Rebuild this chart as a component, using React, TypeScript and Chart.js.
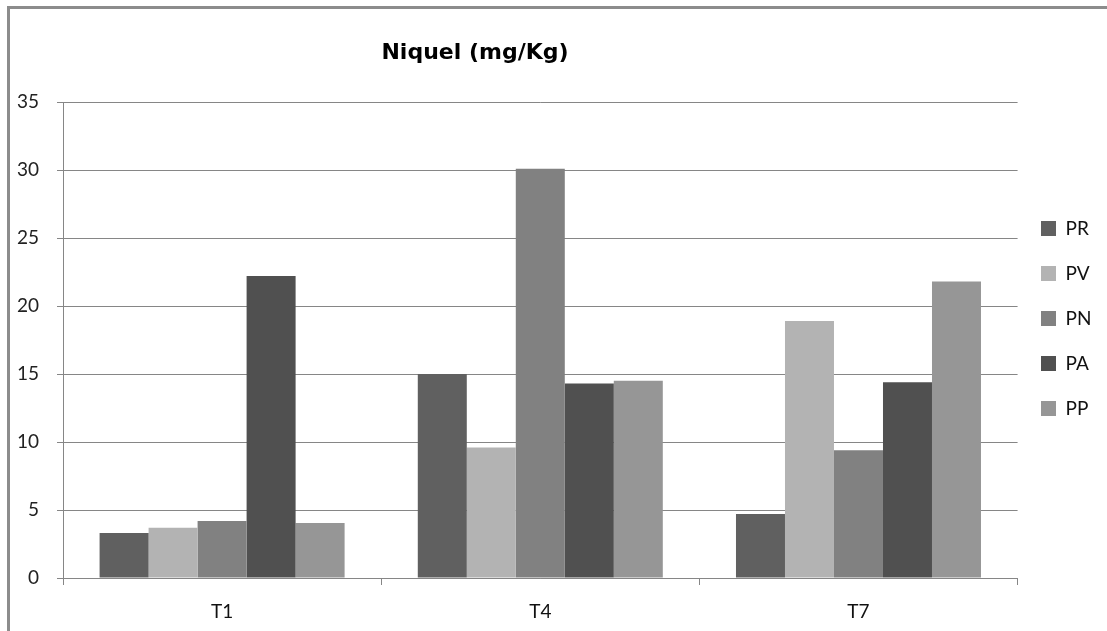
import React, { useEffect, useRef } from "react";
import { Chart, registerables } from "chart.js";

Chart.register(...registerables);

const categories = ["T1", "T4", "T7"];
const seriesNames = ["PR", "PV", "PN", "PA", "PP"];
const PR = [3.3, 15.0, 4.7];
const PV = [3.7, 9.6, 18.9];
const PN = [4.2, 30.1, 9.4];
const PA = [22.2, 14.3, 14.4];
const PP = [4.05, 14.5, 21.8];
const seriesValues = [PR, PV, PN, PA, PP];
const seriesColors = ["#606060", "#b3b3b3", "#818181", "#505050", "#969696"];
const yTicks = [0, 5, 10, 15, 20, 25, 30, 35];
const titleText = "Niquel (mg/Kg)";

const FONT = "Lato";
const GRID = "#868686";

export default function App() {
  const ref = useRef<HTMLCanvasElement | null>(null);

  useEffect(() => {
    document.body.style.margin = "0";
    const canvas = ref.current;
    if (!canvas) return;

    const placeBlocks = {
      id: "placeBlocks",
      beforeDraw(chart: any) {
        const t = chart.titleBlock;
        if (t) {
          t.left = 0;
          t.right = 950;
        }
        const lg = chart.legend;
        if (lg) {
          const pad = lg.options.labels.padding;
          lg.left = 1041 - pad;
          lg.top = 219 - pad;
        }
      },
    };

    const chart = new Chart(canvas, {
      type: "bar",
      data: {
        labels: categories,
        datasets: seriesNames.map((name, i) => ({
          label: name,
          data: seriesValues[i],
          backgroundColor: seriesColors[i],
          borderWidth: 0,
          categoryPercentage: 0.77,
          barPercentage: 1,
        })),
      },
      options: {
        responsive: false,
        animation: false,
        layout: { padding: { left: 0, right: 3, top: 0, bottom: 0 } },
        plugins: {
          tooltip: { enabled: false },
          title: {
            display: true,
            text: titleText,
            color: "#000",
            font: { family: "DejaVu Sans", size: 22, weight: "bold", lineHeight: 1.2 },
            padding: { top: 40, bottom: 35.6 },
          },
          legend: {
            display: true,
            position: "right",
            align: "start",
            labels: {
              boxWidth: 15,
              boxHeight: 15,
              padding: 26,
              color: "#111",
              font: { family: FONT, size: 19 },
            },
          },
        },
        scales: {
          x: {
            offset: true,
            grid: {
              display: true,
              offset: true,
              drawOnChartArea: false,
              drawTicks: true,
              tickLength: 7,
              color: GRID,
            },
            border: { display: true, color: GRID },
            ticks: {
              color: "#111",
              padding: 15,
              font: { family: FONT, size: 19 },
            },
            afterFit(scale: any) {
              scale.height = 53;
            },
          },
          y: {
            min: 0,
            max: 35,
            afterBuildTicks(scale: any) {
              scale.ticks = yTicks.map((v) => ({ value: v }));
            },
            grid: {
              color: GRID,
              drawTicks: true,
              tickLength: 6,
            },
            border: { display: true, color: GRID },
            ticks: {
              color: "#222",
              padding: 18,
              font: { family: FONT, size: 19 },
            },
            afterFit(scale: any) {
              scale.width = 63;
            },
          },
        },
      },
      plugins: [placeBlocks],
    });

    return () => chart.destroy();
  }, []);

  return (
    <div style={{ position: "fixed", left: 0, top: 0, width: 1107, height: 631, background: "#fff", overflow: "hidden" }}>
      <div
        style={{
          position: "absolute",
          left: 7,
          top: 6,
          width: 1200,
          height: 700,
          borderLeft: "3px solid #8c8c8c",
          borderTop: "3px solid #8c8c8c",
        }}
      />
      <canvas ref={ref} width={1107} height={631} style={{ position: "absolute", left: 0, top: 0, display: "block" }} />
    </div>
  );
}
